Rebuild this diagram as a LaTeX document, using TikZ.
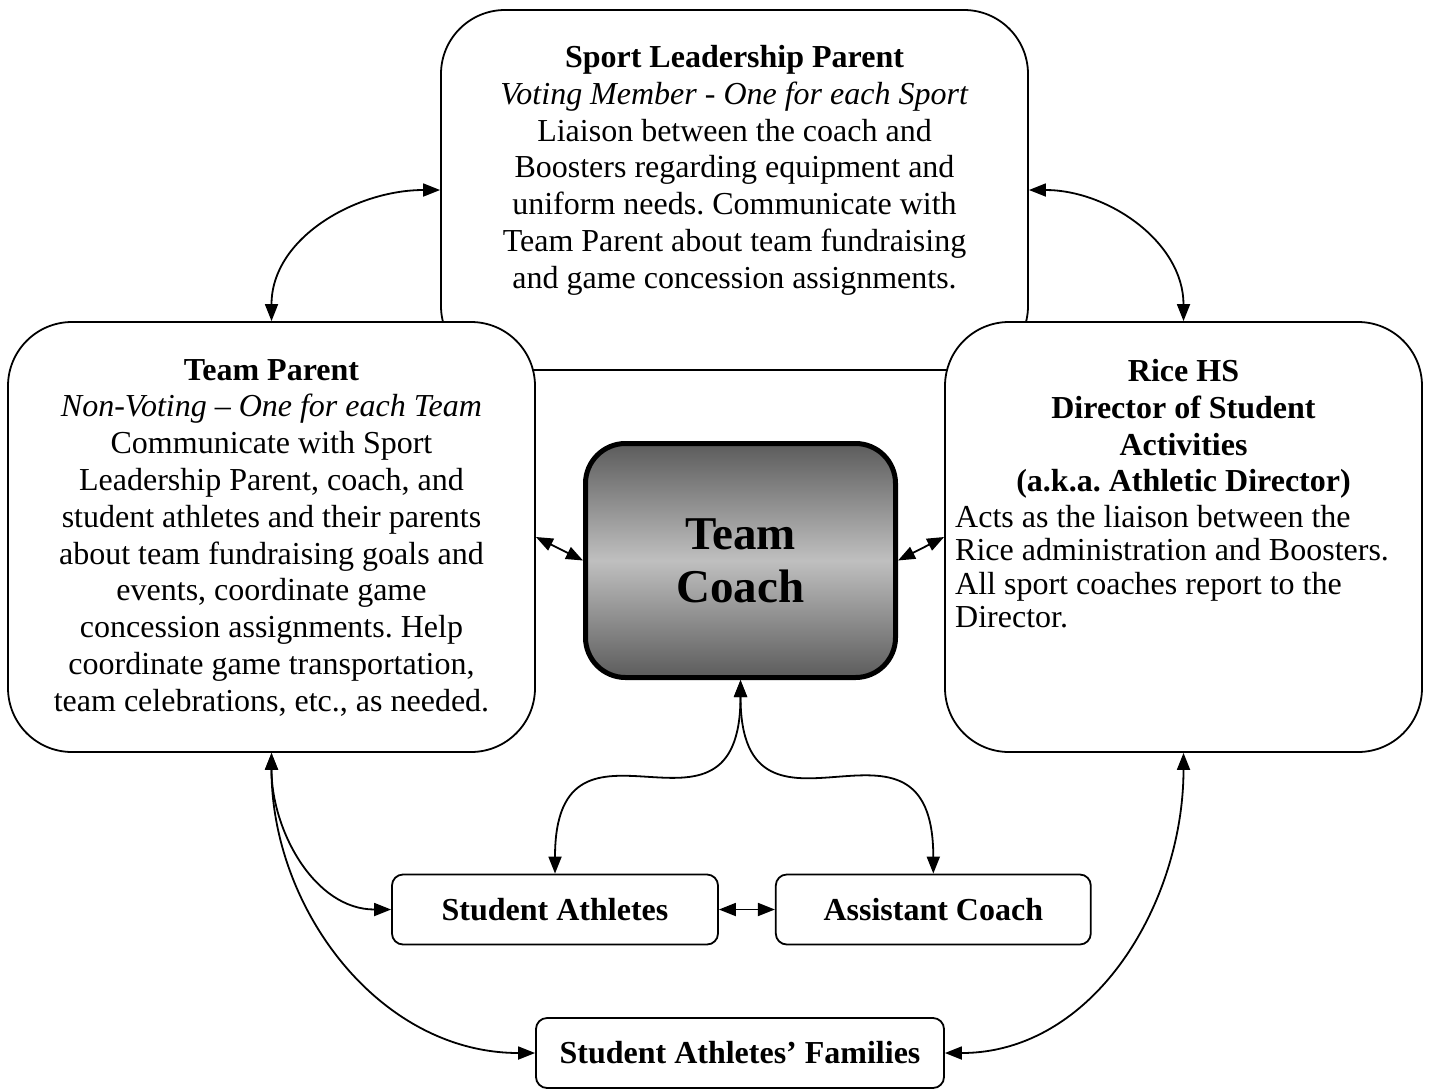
\documentclass[tikz,border=0pt]{standalone}
\usepackage{fontspec}
\setmainfont{Liberation Serif}
\frenchspacing
\usetikzlibrary{positioning,arrows.meta}
\tikzset{BigBox/.style={%
    shape=rectangle,%
    draw=black,%
    fill=white,%
    rounded corners=64pt,%
    line width=1.8pt,%
    inner sep=0pt,%
}}
\tikzset{CoachBox/.style={%
    shape=rectangle,%
    draw=black,%
    top color=black!64,%
    bottom color=black!64,%
    middle color=black!25,%
    rounded corners=40pt,%
    line width=5pt,%
    minimum width=310pt,%
    minimum height=234pt,%
    align=center,%
    font=\fontsize{47}{53}\selectfont\bfseries,%
}}
\tikzset{SmallBox/.style={%
    shape=rectangle,%
    draw=black,%
    fill=white,%
    rounded corners=11pt,%
    line width=1.8pt,%
    minimum height=70pt,%
    inner sep=0pt,%
    font=\fontsize{32}{36.8}\selectfont\bfseries,%
}}
\tikzset{BoxText/.style={%
    inner sep=0pt,%
    align=center,%
    font=\fontsize{32}{36.8}\selectfont,%
}}
\tikzset{NormalEdge/.style={%
    {Triangle[length=17pt,width=13pt]}-{Triangle[length=17pt,width=13pt]},%
    line width=1.8pt,%
}}

\begin{document}
\begin{tikzpicture}[x=1pt,y=-1pt]
    \useasboundingbox (0,0) rectangle (1429,1090);

    \node[BigBox, minimum width=587pt, minimum height=360pt] (slp) at (734.5,190) {};
    \node[BigBox, minimum width=527pt, minimum height=430pt] (tp) at (271.5,537) {};
    \node[BigBox, minimum width=477pt, minimum height=430pt] (rice) at (1183.5,537) {};
    \node[CoachBox] (coach) at (740.5,560.5) {Team\\Coach};
    \node[SmallBox, minimum width=326pt] (sa) at (555,909.5) {Student Athletes};
    \node[SmallBox, minimum width=315pt, right=56pt of sa] (ac) {Assistant Coach};
    \node[SmallBox, minimum width=408pt] (fam) at (740,1053) {Student Athletes’ Families};

    \node[BoxText, anchor=north] (slptext) at (734.5,45) {\textbf{Sport Leadership Parent}\\
        \textit{Voting Member - One for each Sport}\\
        Liaison between the coach and\\
        Boosters regarding equipment and\\
        uniform needs. Communicate with\\
        Team Parent about team fundraising\\
        and game concession assignments.};
    \node[BoxText, anchor=north] (tptext) at (271.5,359) {\textbf{Team Parent}\\
        \textit{Non-Voting – One for each Team}\\
        Communicate with Sport\\
        Leadership Parent, coach, and\\
        student athletes and their parents\\
        about team fundraising goals and\\
        events, coordinate game\\
        concession assignments. Help\\
        coordinate game transportation,\\
        team celebrations, etc., as needed.};
    \node[BoxText, anchor=north, font=\fontsize{32}{36.8}\selectfont\bfseries] (ricetitle) at (1183.5,359) {Rice HS\\
        Director of Student\\
        Activities\\
        (a.k.a. Athletic Director)};
    \node[BoxText, anchor=north west, align=left, font=\fontsize{32}{33.5}\selectfont] (ricetext) at (955,505) {Acts as the liaison between the\\
        Rice administration and Boosters.\\
        All sport coaches report to the\\
        Director.};

    \path (slp.west) edge[NormalEdge, out=180, in=90] (tp.north);
    \path (slp.east) edge[NormalEdge, out=0, in=90] (rice.north);
    \path (tp.east) edge[NormalEdge] (coach.west);
    \path (rice.west) edge[NormalEdge] (coach.east);
    \path (coach.south) edge[NormalEdge, out=-90, in=90, looseness=1.8] (sa.north);
    \path (coach.south) edge[NormalEdge, out=-90, in=90, looseness=1.8] (ac.north);
    \path (sa.east) edge[NormalEdge] (ac.west);
    \path (tp.south) edge[NormalEdge, out=-90, in=180] (sa.west);
    \path (tp.south) edge[NormalEdge, out=-90, in=180] (fam.west);
    \path (rice.south) edge[NormalEdge, out=-90, in=0] (fam.east);
\end{tikzpicture}
\end{document}
